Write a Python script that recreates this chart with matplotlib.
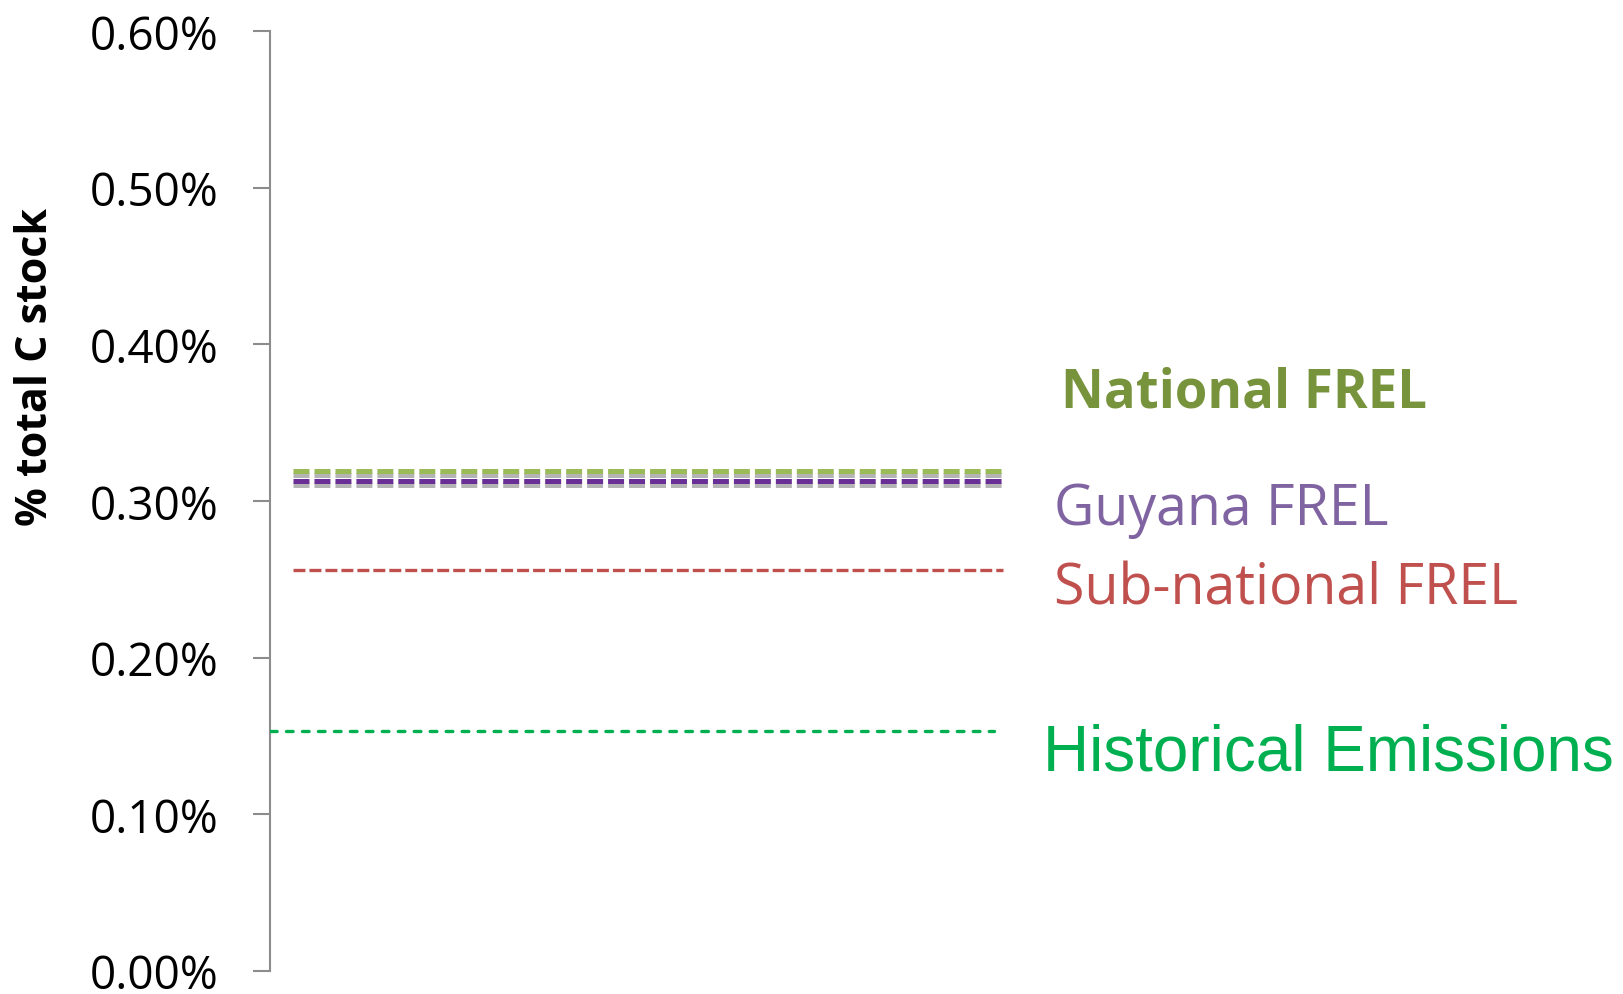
import matplotlib
matplotlib.use("Agg")
import matplotlib.pyplot as plt
import matplotlib.patheffects as pe
from matplotlib.ticker import FuncFormatter

# ---- data (values in % of total C stock) ----
series_names = ["National FREL", "Guyana FREL", "Sub-national FREL", "Historical Emissions"]
series_values = [0.319, 0.313, 0.256, 0.1535]
line_x_start = [0.017, 0.017, 0.017, 0.0]
line_x_end = [0.541, 0.541, 0.541, 0.535]
y_ticks = [0.0, 0.1, 0.2, 0.3, 0.4, 0.5, 0.6]

line_colors = ["#9BBB59", "#6A2F96", "#C0504D", "#00B050"]
text_colors = ["#77933C", "#8064A2", "#C0504D", "#00B050"]

plt.rcParams["lines.scale_dashes"] = False

W, H = 1624, 995
fig = plt.figure(figsize=(W / 100, H / 100), dpi=100, facecolor="white")
ax = fig.add_axes([270 / W, 23 / H, (W - 270) / W, 940 / H])
ax.set_xlim(0, 1)
ax.set_ylim(0, 0.6)

shadow = [pe.SimpleLineShadow(offset=(0, -3), shadow_color="#444444", alpha=0.4),
          pe.Normal()]

# National & Guyana: thick dashes with a soft shadow
for i in (0, 1):
    ax.plot([line_x_start[i], line_x_end[i]], [series_values[i]] * 2,
            color=line_colors[i], lw=3.6, dashes=(11.5, 3.6),
            solid_capstyle="butt", dash_capstyle="butt",
            path_effects=shadow, zorder=3 + i)

# Sub-national
ax.plot([line_x_start[2], line_x_end[2]], [series_values[2]] * 2,
        color=line_colors[2], lw=2.4, dashes=(8.6, 2.9),
        dash_capstyle="butt", zorder=3)

# Historical emissions (round dots)
ax.plot([line_x_start[3], line_x_end[3]], [series_values[3]] * 2,
        color=line_colors[3], lw=2.4, dashes=(4.8, 6.7),
        dash_capstyle="round", zorder=3)

# ---- labels next to the lines ----
label_x = [0.584, 0.579, 0.579, 0.571]
label_y = [0.3606, 0.2853, 0.2343, 0.1289]
label_font = ["Open Sans", "Open Sans", "Open Sans", "Liberation Sans"]
label_weight = ["bold", "normal", "normal", "normal"]
label_size = [38, 40, 40, 46]
for name, x, y, c, f, w, s in zip(series_names, label_x, label_y, text_colors,
                                  label_font, label_weight, label_size):
    ax.text(x, y, name, color=c, family=f, fontweight=w, fontsize=s,
            va="baseline", ha="left", clip_on=False)

# ---- axes styling ----
for side in ("top", "right", "bottom"):
    ax.spines[side].set_visible(False)
ax.spines["left"].set_color("#8C8C8C")
ax.spines["left"].set_linewidth(1.5)
ax.set_xticks([])
ax.set_yticks(y_ticks)
ax.yaxis.set_major_formatter(FuncFormatter(lambda v, _: f"{v:.2f}%"))
ax.tick_params(axis="y", direction="out", length=12, width=1.5,
               color="#8C8C8C", pad=25, labelsize=33, labelcolor="black")
for lab in ax.get_yticklabels():
    lab.set_family("Open Sans")

fig.text(36 / W, 1 - 367 / H, "% total C stock", rotation=90, ha="center",
         va="center", fontsize=31, fontweight="bold", family="Open Sans")

fig.savefig("out.png", dpi=100, facecolor="white")
